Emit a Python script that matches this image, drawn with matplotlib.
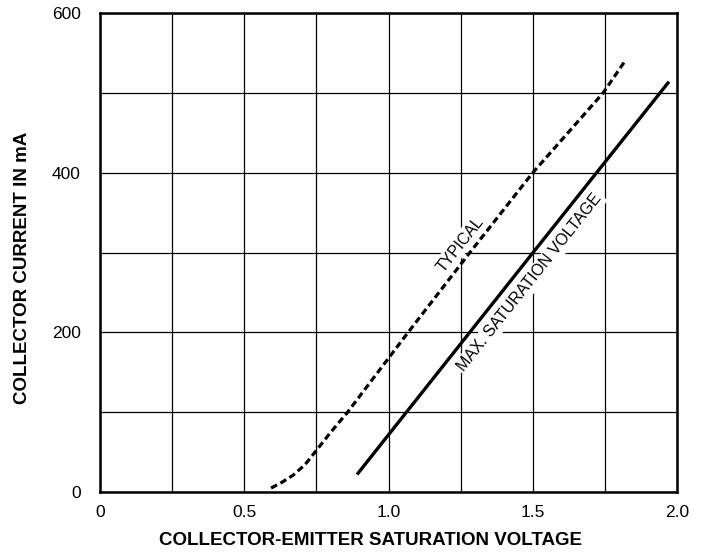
import matplotlib
matplotlib.use("Agg")
import matplotlib.pyplot as plt
from matplotlib.ticker import MultipleLocator

plt.rcParams["font.family"] = ["Liberation Sans", "DejaVu Sans"]

# typical saturation curve (dashed)
typ_v = [0.593, 0.63, 0.669, 0.71, 0.752, 0.80, 0.856, 1.068, 1.282, 1.50, 1.744, 1.816]
typ_i = [5, 12, 21, 34, 53, 75, 99, 200, 300, 400, 500, 538]

# max saturation voltage (solid straight line)
max_v = [0.891, 1.501, 1.972]
max_i = [22, 300, 514]

x_ticks = [0, 0.5, 1.0, 1.5, 2.0]
x_labels = ["0", "0.5", "1.0", "1.5", "2.0"]
y_ticks = [0, 200, 400, 600]

fig = plt.figure(figsize=(7.06, 5.54), dpi=100)
ax = fig.add_axes([0.1416, 0.1119, 0.8174, 0.8646])

ax.plot(typ_v, typ_i, color="black", lw=2.3, linestyle=(0, (2.1, 1.2)),
        dash_capstyle="butt", zorder=3)
ax.plot(max_v, max_i, color="black", lw=2.4, solid_capstyle="butt", zorder=3)

ax.set_xlim(0, 2.0); ax.set_ylim(0, 600)
ax.set_xticks(x_ticks); ax.set_xticklabels(x_labels)
ax.set_yticks(y_ticks)
ax.xaxis.set_minor_locator(MultipleLocator(0.25))
ax.yaxis.set_minor_locator(MultipleLocator(100))
ax.grid(True, which="both", color="black", lw=0.9)
ax.tick_params(which="both", length=0, labelsize=12.5)
ax.tick_params(axis="x", pad=9)
ax.tick_params(axis="y", pad=14)
for s in ax.spines.values():
    s.set_linewidth(1.8)

ax.set_xlabel("COLLECTOR-EMITTER SATURATION VOLTAGE", fontsize=13.5,
              fontweight="bold")
ax.set_ylabel("COLLECTOR CURRENT IN mA", fontsize=13.5, fontweight="bold")
ax.xaxis.set_label_coords(0.468, -0.102)
ax.xaxis.label.set_verticalalignment("center")
ax.yaxis.set_label_coords(-0.135, 0.468)
ax.yaxis.label.set_verticalalignment("center")

box = dict(facecolor="white", edgecolor="none", pad=1.5)
ax.text(1.248, 310, "TYPICAL", rotation=51.5, ha="center", va="center",
        fontsize=11.3, bbox=box, zorder=4, rotation_mode="anchor")
ax.text(1.49, 262, "MAX. SATURATION VOLTAGE", rotation=51.5, ha="center",
        va="center", fontsize=11.5, bbox=box, zorder=4, rotation_mode="anchor")

fig.savefig("out.png", dpi=100)
